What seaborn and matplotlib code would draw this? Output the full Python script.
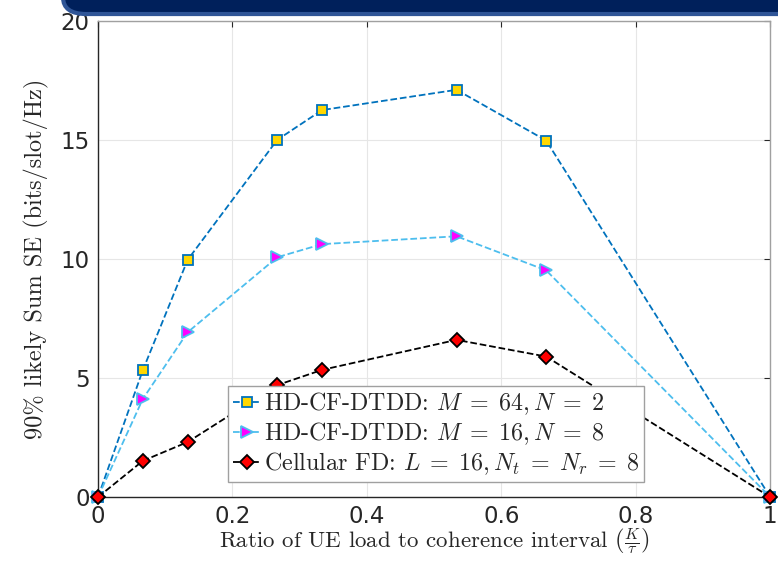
import numpy as np
import pandas as pd
import seaborn as sns
import matplotlib.pyplot as plt
from matplotlib.patches import FancyBboxPatch

# data
load_ratio = [0, 1/15, 2/15, 4/15, 5/15, 8/15, 10/15, 1]
se_hd_64_2 = [0, 5.33, 9.96, 15.0, 16.25, 17.1, 14.97, 0]
se_hd_16_8 = [0, 4.12, 6.92, 10.07, 10.62, 10.95, 9.52, 0]
se_cell_fd = [0, 1.52, 2.31, 4.7, 5.34, 6.6, 5.9, 0]
labels = [r'HD-CF-DTDD: $M\;=\;64,N\;=\;2$',
          r'HD-CF-DTDD: $M\;=\;16,N\;=\;8$',
          r'Cellular FD: $L\;=\;16,N_t\;=\;N_r\;=\;8$']

df = pd.DataFrame({'x': load_ratio, 'a': se_hd_64_2, 'b': se_hd_16_8, 'c': se_cell_fd})

sns.set_style('whitegrid')
plt.rcParams['mathtext.fontset'] = 'cm'

fig = plt.figure(figsize=(7.78, 5.61), dpi=100)
ax = fig.add_axes([0.126, 0.114, 0.864, 0.849])

styles = [
    ('a', '#0072BD', 's', '#FFD700', '#0072BD', 7),
    ('b', '#4DBEEE', '>', '#FF00FF', '#4DBEEE', 9),
    ('c', '#000000', 'D', '#FF0000', '#000000', 7),
]
for (col, lc, mk, mfc, mec, ms), lab in zip(styles, labels):
    sns.lineplot(data=df, x='x', y=col, ax=ax, sort=False, color=lc, linestyle='--',
                 linewidth=1.3, marker=mk, markersize=ms, markerfacecolor=mfc,
                 markeredgecolor=mec, markeredgewidth=1.3, label=lab, clip_on=False,
                 zorder=3)

ax.set_xlim(0, 1)
ax.set_ylim(0, 20)
ax.set_xticks([0, 0.2, 0.4, 0.6, 0.8, 1])
ax.set_xticklabels(['0', '0.2', '0.4', '0.6', '0.8', '1'])
ax.set_yticks([0, 5, 10, 15, 20])
ax.tick_params(labelsize=16.5, colors='#262626', direction='in', length=4,
               top=True, right=True)
ax.tick_params(axis='x', pad=6)
ax.tick_params(axis='y', pad=6)
ax.grid(True, color='#e6e6e6', linewidth=0.8)
for s in ax.spines.values():
    s.set_color('#a0a0a0')
    s.set_linewidth(1.0)
ax.spines['bottom'].set_color('#262626')
ax.spines['left'].set_color('#262626')

ax.set_xlabel(r'Ratio of UE load to coherence interval $\left(\frac{K}{\tau}\right)$',
              fontsize=16.5, family='cmr10', labelpad=-1)
ax.set_ylabel('90% likely Sum SE (bits/slot/Hz)', fontsize=17.5, family='cmr10', labelpad=8)

leg = ax.legend(loc='lower left', bbox_to_anchor=(0.193, 0.031),
                prop={'family': 'cmr10', 'size': 17.3}, handlelength=1.2, handletextpad=0.1,
                borderpad=0.2, labelspacing=0.15, borderaxespad=0, fancybox=False,
                framealpha=1)
leg.get_frame().set_edgecolor('#a0a0a0')
leg.get_frame().set_linewidth(1.0)

# slide header bar at the top
bar = FancyBboxPatch((63 / 778, 0.975), 1.0, 0.1, boxstyle='round,pad=0,rounding_size=0.03',
                     transform=fig.transFigure, facecolor='#00205b', edgecolor='#2f5597',
                     linewidth=3, clip_on=False)
fig.patches.append(bar)

fig.savefig('out.png', dpi=100)
